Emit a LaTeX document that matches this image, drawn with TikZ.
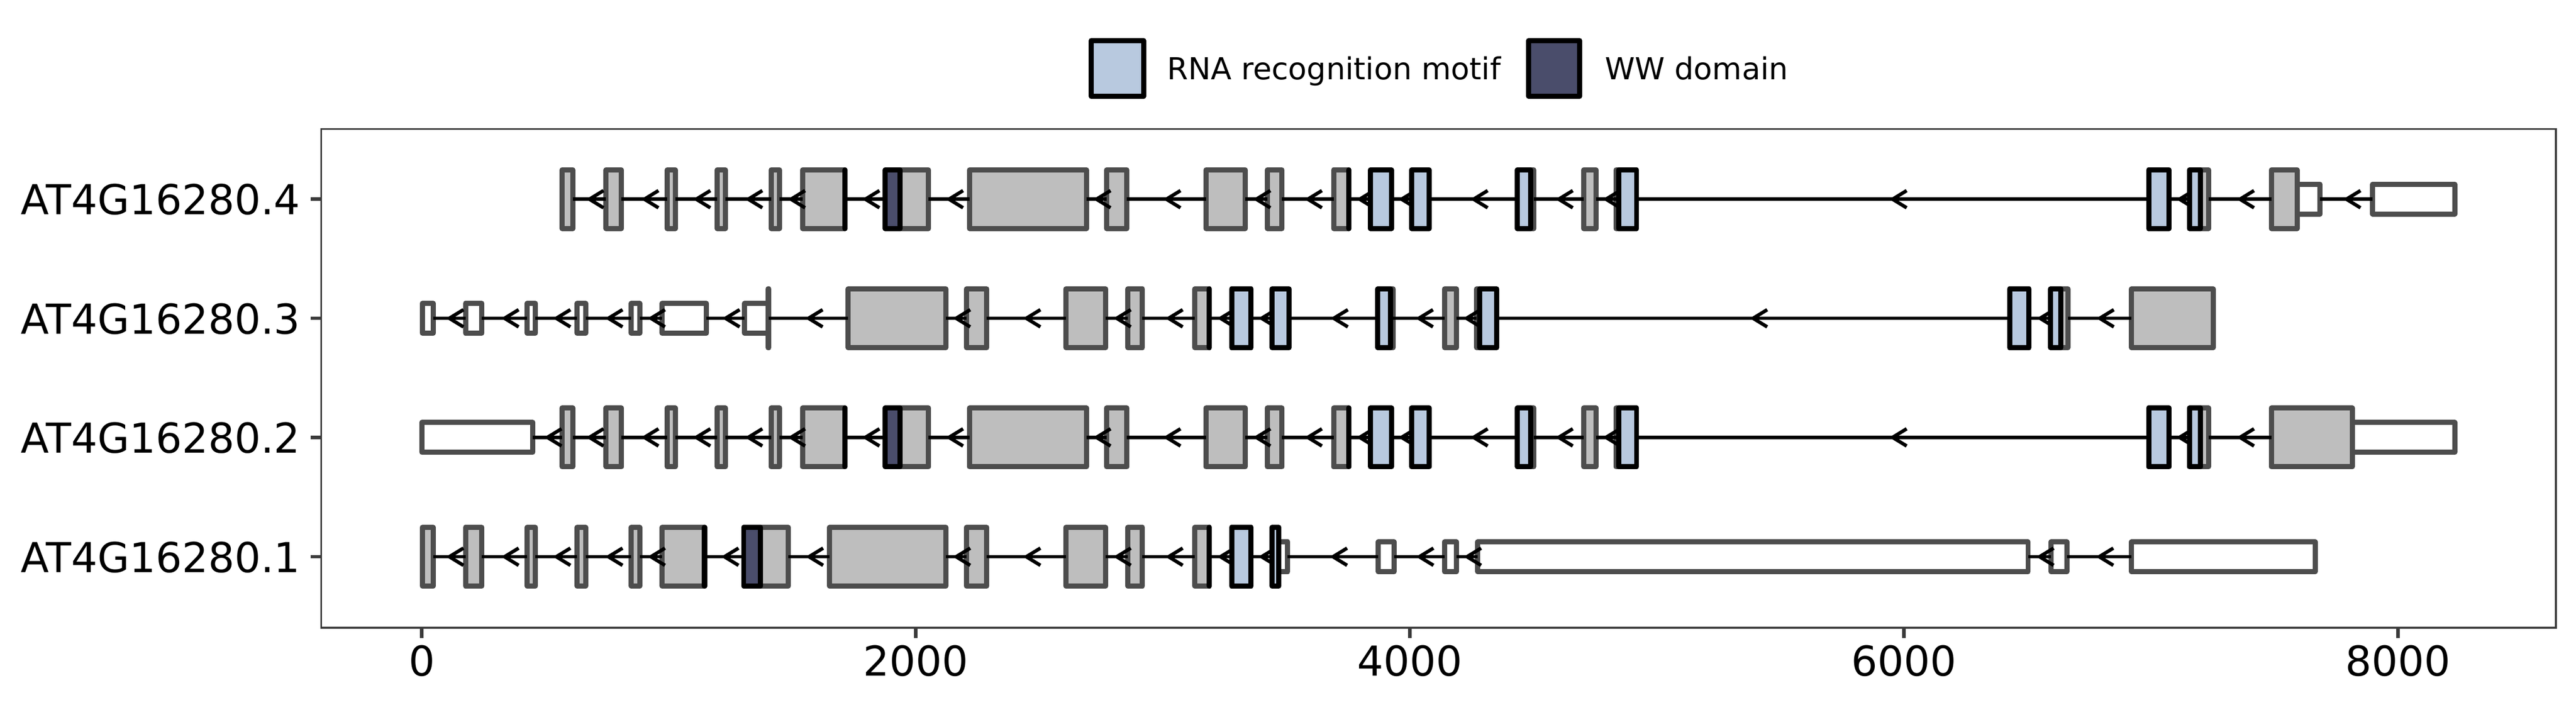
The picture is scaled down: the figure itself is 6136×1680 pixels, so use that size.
\documentclass[tikz,border=0pt]{standalone}
\usepackage{fontspec}
\setmainfont{DejaVu Sans}

\definecolor{exongray}{HTML}{BEBEBE}
\definecolor{edgegray}{HTML}{4D4D4D}
\definecolor{rrmblue}{HTML}{B8C9DF}
\definecolor{wwdark}{HTML}{4A4D6B}
\definecolor{framegray}{HTML}{3A3A3A}

\tikzset{
  cds/.style={fill=exongray, draw=edgegray, line width=2.2pt, line join=round},
  utr/.style={fill=white, draw=edgegray, line width=2.2pt, line join=round},
  rrm/.style={fill=rrmblue, draw=black, line width=2.2pt, line join=round},
  ww/.style={fill=wwdark, draw=black, line width=2.2pt, line join=round},
  intron/.style={draw=black, line width=1.5pt},
  tickmark/.style={draw=framegray, line width=1.5pt},
  ticklab/.style={font=\fontsize{17.7}{20}\selectfont, inner sep=0pt},
  legbox/.style={draw=black, line width=2.2pt, line join=round},
  legtext/.style={font=\fontsize{13}{15}\selectfont, inner sep=0pt, anchor=base west}
}

\newcommand{\cdspart}[2]{\draw[cds] (#1,-70) rectangle (#2,70);}
\newcommand{\utrpart}[2]{\draw[utr] (#1,-35.5) rectangle (#2,35.5);}
\newcommand{\rrmpart}[2]{\draw[rrm] (#1,-70) rectangle (#2,70);}
\newcommand{\wwpart}[2]{\draw[ww] (#1,-70) rectangle (#2,70);}
\newcommand{\introns}[1]{\edef\intronlist{#1}\foreach \a/\b in \intronlist {
    \draw[intron] (\a,0) -- (\b,0);
    \draw[intron] ({(\a+\b)/2+57},-20.5) -- ({(\a+\b)/2},0) -- ({(\a+\b)/2+57},20.5);}}

\newcommand{\sharedexons}{%
  \cdspart{568}{611} \cdspart{746}{808} \cdspart{994}{1026} \cdspart{1196}{1229}
  \cdspart{1414}{1448} \cdspart{1541}{1713} \cdspart{1878}{2051} \cdspart{2217}{2690}
  \cdspart{2772}{2854} \cdspart{3174}{3333} \cdspart{3423}{3482} \cdspart{3691}{3753}
  \cdspart{4437}{4501} \cdspart{4703}{4753} \cdspart{4834}{4917} \cdspart{7157}{7232}}
\newcommand{\sharedintrons}{%
  611/746, 808/994, 1026/1196, 1229/1414, 1448/1541, 1713/1878, 2051/2217,
  2690/2772, 2854/3174, 3333/3423, 3482/3691, 3753/3840, 3925/4007, 4078/4437,
  4501/4703, 4753/4834, 4917/6990, 7073/7157}
\newcommand{\shareddomains}{%
  \wwpart{1712}{1713} \wwpart{1876}{1936} \rrmpart{3752}{3753}
  \rrmpart{3840}{3925} \rrmpart{4007}{4078} \rrmpart{4435}{4488}
  \rrmpart{4845}{4917} \rrmpart{6990}{7073} \rrmpart{7155}{7200}}

\begin{document}
\begin{tikzpicture}[x=0.18pt, y=-0.18pt]
  \useasboundingbox (0,0) rectangle (6136,1680);

  % legend
  \draw[legbox, fill=rrmblue] (2599,97) rectangle (2724,229);
  \node[legtext] (rrmlab) at (2779,189) {RNA recognition motif};
  \draw[legbox, fill=wwdark] (3641,97) rectangle (3763,229);
  \node[legtext] (wwlab) at (3822,189) {WW domain};

  % axes
  \draw[framegray, line width=0.7pt] (765,307.7) rectangle (6088,1496);
  \foreach \n/\yy in {4/474.7, 3/758.5, 2/1042.3, 1/1326.7} {
    \draw[tickmark] (740,\yy) -- (765,\yy);
    \node[ticklab, anchor=base east] (tx\n) at (716,\yy+37) {AT4G16280.\n};
  }
  \foreach \v in {0,2000,4000,6000,8000} {
    \draw[tickmark] ({1004.7+0.58846*\v},1496) -- ({1004.7+0.58846*\v},1521);
    \node[ticklab, anchor=base] (ty\v) at ({1004.7+0.58846*\v},1611) {\v};
  }

  \begin{scope}[shift={(1004.7,0)}, xscale=0.58846]
    % AT4G16280.4
    \begin{scope}[shift={(0,474.7)}]
      \sharedexons
      \utrpart{7591}{7684} \cdspart{7487}{7591} \utrpart{7897}{8229}
      \introns{\sharedintrons, 7232/7487, 7684/7897}
      \shareddomains
    \end{scope}
    % AT4G16280.3
    \begin{scope}[shift={(0,758.5)}]
      \utrpart{2}{46} \utrpart{177}{243} \utrpart{427}{460} \utrpart{629}{663}
      \utrpart{848}{882} \utrpart{973}{1152} \utrpart{1307}{1401} \cdspart{1401}{1405}
      \cdspart{1726}{2121} \cdspart{2205}{2287} \cdspart{2607}{2768} \cdspart{2858}{2917}
      \cdspart{3129}{3188} \cdspart{3872}{3932} \cdspart{4140}{4188} \cdspart{4270}{4349}
      \cdspart{6595}{6663} \cdspart{6921}{7251}
      \introns{46/177, 243/427, 460/629, 663/848, 882/973, 1152/1307, 1405/1726,
        2121/2205, 2287/2607, 2768/2858, 2917/3129, 3188/3278, 3357/3442, 3511/3872,
        3932/4140, 4188/4270, 4351/6427, 6506/6595, 6663/6921}
      \rrmpart{3187}{3188} \rrmpart{3278}{3357} \rrmpart{3442}{3511}
      \rrmpart{3870}{3921} \rrmpart{4283}{4351} \rrmpart{6427}{6506} \rrmpart{6593}{6635}
    \end{scope}
    % AT4G16280.2
    \begin{scope}[shift={(0,1042.3)}]
      \utrpart{0}{449}
      \sharedexons
      \utrpart{7814}{8229} \cdspart{7487}{7814}
      \introns{449/568, \sharedintrons, 7232/7487}
      \shareddomains
    \end{scope}
    % AT4G16280.1
    \begin{scope}[shift={(0,1326.7)}]
      \cdspart{2}{46} \cdspart{177}{243} \cdspart{427}{460} \cdspart{629}{663}
      \cdspart{848}{882} \cdspart{973}{1145} \cdspart{1305}{1484} \cdspart{1651}{2121}
      \cdspart{2205}{2287} \cdspart{2607}{2768} \cdspart{2858}{2917} \cdspart{3129}{3188}
      \utrpart{3469}{3505} \utrpart{3872}{3936} \utrpart{4140}{4188} \utrpart{4274}{6502}
      \utrpart{6595}{6659} \utrpart{6921}{7664}
      \introns{46/177, 243/427, 460/629, 663/848, 882/973, 1145/1305, 1484/1651,
        2121/2205, 2287/2607, 2768/2858, 2917/3129, 3188/3278, 3357/3442, 3505/3872,
        3936/4140, 4188/4274, 6502/6595, 6659/6921}
      \wwpart{1144}{1145} \wwpart{1303}{1371} \rrmpart{3187}{3188}
      \rrmpart{3278}{3357} \rrmpart{3442}{3469}
    \end{scope}
  \end{scope}
\end{tikzpicture}
\end{document}
